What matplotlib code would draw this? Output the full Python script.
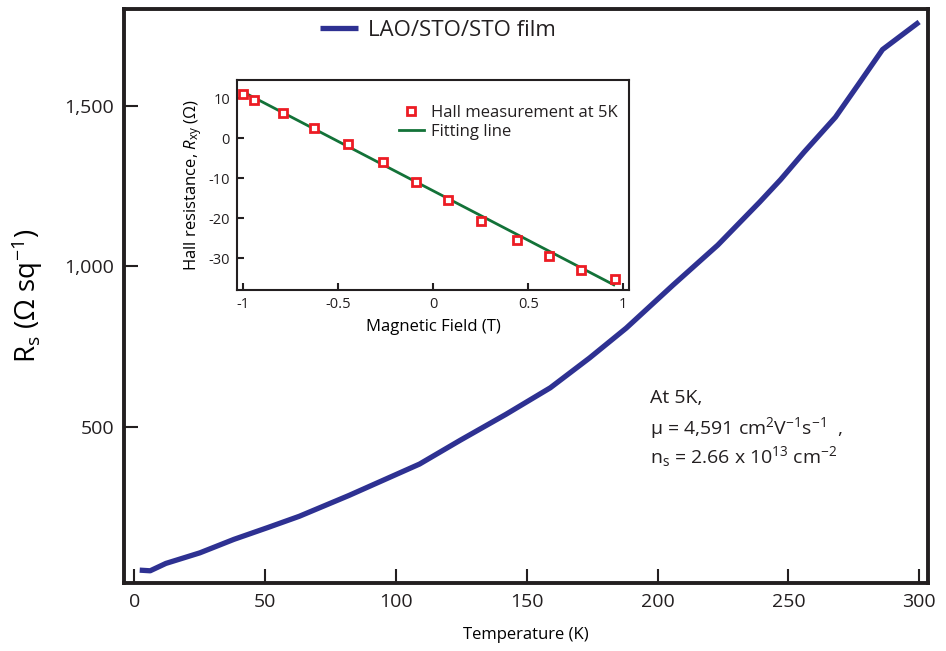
#!/usr/bin/env python3
import numpy as np
import matplotlib
matplotlib.use('Agg')
import matplotlib.pyplot as plt
from matplotlib.ticker import FuncFormatter

# sheet resistance vs temperature
temp_K = [2, 6, 12, 25, 38, 51, 63, 82, 109, 124.5, 142, 159, 174, 188,
          206, 223, 239, 247, 256, 268, 277, 286, 300]
rs_ohm = [52, 50, 73, 106, 148, 185, 220, 285, 383, 457, 538, 621, 714, 807,
          942, 1066, 1200, 1270, 1356, 1465, 1570, 1676, 1762]

# Hall measurement at 5 K
field_T = [-1.0, -0.944, -0.79, -0.63, -0.45, -0.265, -0.09, 0.08, 0.25,
           0.44, 0.61, 0.78, 0.956]
rxy_ohm = [11.2, 9.5, 6.4, 2.5, -1.5, -6.0, -10.9, -15.5, -20.7,
           -25.4, -29.3, -32.8, -35.1]
fit_field = [-1.0, 0.95]
fit_rxy = [11.6, -36.6]

notes = ['At 5K,',
         'µ = 4,591 cm$^{2}$V$^{-1}$s$^{-1}$  ,',
         'n$_{s}$ = 2.66 x 10$^{13}$ cm$^{-2}$']

NAVY = '#2e3192'
RED = '#ed1c24'
GREEN = '#137238'
INK = '#231f20'

plt.rcParams['font.family'] = ['Open Sans', 'DejaVu Sans']
plt.rcParams['mathtext.fontset'] = 'custom'
plt.rcParams['mathtext.rm'] = 'Open Sans'
plt.rcParams['mathtext.it'] = 'Open Sans:italic'
plt.rcParams['mathtext.default'] = 'regular'
plt.rcParams['axes.unicode_minus'] = False
plt.rcParams['text.color'] = INK


def main():
    fig = plt.figure(figsize=(9.46, 6.51), dpi=100)
    ax = fig.add_axes([0.1311, 0.1045, 0.8499, 0.8814])

    ax.plot(temp_K, rs_ohm, color=NAVY, lw=3.8, solid_capstyle='butt',
            label='LAO/STO/STO film')
    ax.set_xlim(-4, 303.4)
    ax.set_ylim(12, 1802)
    ax.set_xticks(np.arange(0, 301, 50))
    ax.set_yticks([500, 1000, 1500])
    ax.yaxis.set_major_formatter(FuncFormatter(lambda v, p: f'{int(v):,}'))
    ax.tick_params(direction='in', length=10, width=1.5, colors=INK,
                   labelsize=14, pad=7)
    for s in ax.spines.values():
        s.set_linewidth(2.8)
        s.set_color(INK)
    ax.set_xlabel('Temperature (K)', fontsize=12, labelpad=12)
    ax.set_ylabel('R$_{s}$ (Ω sq$^{-1}$)', fontsize=20, labelpad=14)
    ax.legend(loc='center left', bbox_to_anchor=(0.2438, 0.9636),
              frameon=False, fontsize=16, handlelength=1.7,
              handletextpad=0.45, borderpad=0, borderaxespad=0)

    for yy, line in zip([0.3137, 0.26, 0.2097], notes):
        ax.text(0.654, yy, line, transform=ax.transAxes, fontsize=14,
                va='baseline', ha='left')

    # inset: Hall resistance
    ins = fig.add_axes([0.2505, 0.5545, 0.4144, 0.3226])
    ins.plot(field_T, rxy_ohm, ls='none', marker='s', ms=6, mfc='white',
             mec=RED, mew=2, label='Hall measurement at 5K', zorder=3)
    ins.plot(fit_field, fit_rxy, color=GREEN, lw=2, label='Fitting line')
    ins.set_xlim(-1.033, 1.03)
    ins.set_ylim(-37.9, 14.6)
    ins.set_xticks([-1, -0.5, 0, 0.5, 1])
    ins.set_xticklabels(['-1', '-0.5', '0', '0.5', '1'])
    ins.set_yticks([10, 0, -10, -20, -30])
    ins.tick_params(direction='in', length=5, width=1.5, colors=INK,
                    labelsize=10.5, pad=5)
    for s in ins.spines.values():
        s.set_linewidth(1.5)
        s.set_color(INK)
    ins.set_xlabel('Magnetic Field (T)', fontsize=12, labelpad=5)
    ins.set_ylabel('Hall resistance, $\\mathit{R}_{xy}$ (Ω)', fontsize=12,
                   labelpad=3)
    ins.legend(loc='upper right', bbox_to_anchor=(1.0, 0.935), frameon=False,
               fontsize=12, handlelength=1.5, handletextpad=0.4,
               borderpad=0.2, labelspacing=0.15)

    fig.savefig('out.png', dpi=100)


if __name__ == '__main__':
    main()
